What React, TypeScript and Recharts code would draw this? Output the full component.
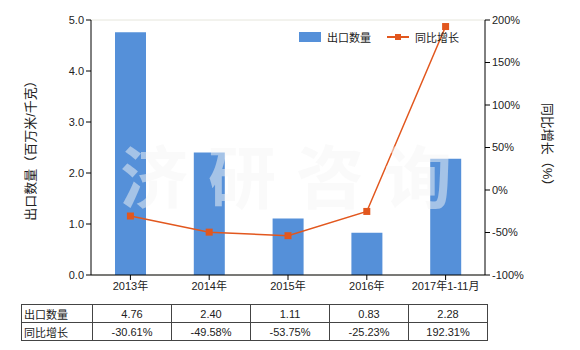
import React from 'react';
import { ComposedChart, Bar, Line, XAxis, YAxis, CartesianGrid } from 'recharts';

const categories = ['2013年', '2014年', '2015年', '2016年', '2017年1-11月'];
const exportQty = [4.76, 2.4, 1.11, 0.83, 2.28];
const growth = [-30.61, -49.58, -53.75, -25.23, 192.31];
const leftTicks = [0, 1, 2, 3, 4, 5];
const rightTicks = [-100, -50, 0, 50, 100, 150, 200];

const qtyName = '出口数量';
const growthName = '同比增长';

const BAR_COLOR = '#5590d9';
const LINE_COLOR = '#e2571e';
const FONT = "'Liberation Sans', 'Noto Sans CJK SC', sans-serif";

const data = categories.map((c, i) => ({ name: c, qty: exportQty[i], growth: growth[i] }));

const SquareDot = (props: any) => {
    const { cx, cy } = props;
    if (cx == null || cy == null) return null;
    return <rect x={cx - 3.5} y={cy - 3.5} width={7} height={7} fill={LINE_COLOR} />;
};

const ChartLegend = () => (
    <div style={{ position: 'absolute', top: 29, left: 299, display: 'flex', alignItems: 'center', fontSize: 11, color: '#222', fontFamily: FONT }}>
        <span style={{ display: 'inline-block', width: 22, height: 10, background: BAR_COLOR, marginRight: 6 }} />
        <span style={{ marginRight: 16 }}>{qtyName}</span>
        <svg width={22} height={10} style={{ marginRight: 6 }}>
            <line x1={0} y1={5} x2={22} y2={5} stroke={LINE_COLOR} strokeWidth={2} />
            <rect x={8} y={2} width={6} height={6} fill={LINE_COLOR} />
        </svg>
        <span>{growthName}</span>
    </div>
);

const cell: React.CSSProperties = {
    border: '1px solid #444',
    padding: 0,
    height: 17,
    textAlign: 'center',
    fontSize: 11,
    color: '#222',
};

export default function App() {
    return (
        <div style={{ position: 'absolute', left: 0, top: 0, width: 580, height: 350, background: '#fff', fontFamily: FONT }}>
            <ComposedChart
                width={580}
                height={300}
                data={data}
                margin={{ top: 20, right: 20, bottom: 0, left: 21 }}
                barCategoryGap={0}
            >
                <CartesianGrid vertical={false} stroke="#e6e6dc" />
                <XAxis
                    dataKey="name"
                    height={25}
                    stroke="#000"
                    tickSize={5}
                    tick={{ fontSize: 11, fill: '#222', fontFamily: FONT }}
                    interval={0}
                />
                <YAxis
                    yAxisId="left"
                    width={70}
                    domain={[0, 5]}
                    ticks={leftTicks}
                    tickFormatter={(v) => v.toFixed(1)}
                    stroke="#000"
                    tickSize={5}
                    tick={{ fontSize: 11, fill: '#222', fontFamily: FONT }}
                    label={{ value: '出口数量（百万米/千克）', angle: -90, position: 'center', dx: -26, style: { fontSize: 13, fill: '#222', fontFamily: FONT } }}
                />
                <YAxis
                    yAxisId="right"
                    orientation="right"
                    width={75}
                    domain={[-100, 200]}
                    ticks={rightTicks}
                    tickFormatter={(v) => `${v}%`}
                    stroke="#000"
                    tickSize={5}
                    tick={{ fontSize: 11, fill: '#222', fontFamily: FONT }}
                    label={{ value: '同比增长（%）', angle: 90, position: 'center', dx: 25, style: { fontSize: 13, fill: '#222', fontFamily: FONT } }}
                />
                <Bar yAxisId="left" dataKey="qty" name={qtyName} fill={BAR_COLOR} barSize={31} isAnimationActive={false} />
                <Line
                    yAxisId="right"
                    dataKey="growth"
                    name={growthName}
                    stroke={LINE_COLOR}
                    strokeWidth={1.5}
                    dot={<SquareDot />}
                    activeDot={false}
                    isAnimationActive={false}
                />
            </ComposedChart>

            <ChartLegend />

            <div
                style={{
                    position: 'absolute',
                    left: 120,
                    top: 134,
                    fontSize: 68,
                    fontWeight: 'bold',
                    letterSpacing: 20,
                    color: 'rgba(246,246,246,0.5)',
                    fontFamily: "'Noto Sans CJK SC', sans-serif",
                    lineHeight: '80px',
                    pointerEvents: 'none',
                    whiteSpace: 'nowrap',
                }}
            >
                济研咨询
            </div>

            <table style={{ position: 'absolute', left: 21, top: 304, borderCollapse: 'collapse', tableLayout: 'fixed', fontFamily: FONT }}>
                <colgroup>
                    <col style={{ width: 71 }} />
                    {categories.map((c) => (
                        <col key={c} style={{ width: 79 }} />
                    ))}
                </colgroup>
                <tbody>
                    <tr>
                        <td style={{ ...cell, textAlign: 'left', paddingLeft: 2 }}>{qtyName}</td>
                        {exportQty.map((v, i) => (
                            <td key={i} style={cell}>{v.toFixed(2)}</td>
                        ))}
                    </tr>
                    <tr>
                        <td style={{ ...cell, textAlign: 'left', paddingLeft: 2 }}>{growthName}</td>
                        {growth.map((v, i) => (
                            <td key={i} style={cell}>{v.toFixed(2)}%</td>
                        ))}
                    </tr>
                </tbody>
            </table>
        </div>
    );
}
